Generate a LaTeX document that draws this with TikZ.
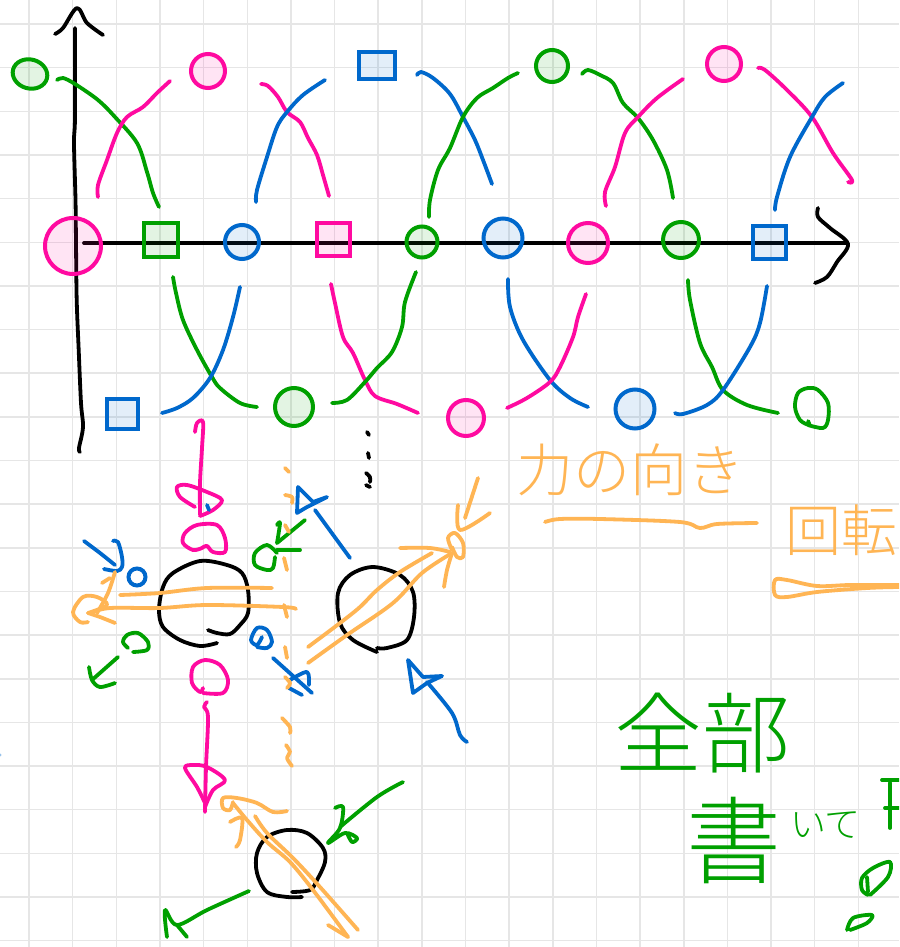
\documentclass[tikz,border=0pt]{standalone}
\usepackage{fontspec}
\usetikzlibrary{shapes.geometric}
\newfontfamily\jpfont{Noto Sans CJK JP Light}
\definecolor{pk}{HTML}{FF0AA0}
\definecolor{gr}{HTML}{00A000}
\definecolor{bl}{HTML}{0068CC}
\definecolor{og}{HTML}{FFB554}
\definecolor{gd}{HTML}{E6E6E6}
\newcommand{\hs}[2]{\draw[ink,#1] plot[smooth,tension=0.55] coordinates {#2};}
\tikzset{
  ink/.style={line width=3.8pt,line cap=round,line join=round},
  blob/.style={draw=#1,fill=#1,fill opacity=0.11,draw opacity=1,line width=4pt,inner sep=0pt,outer sep=0pt},
  round blob/.style={blob=#1,circle},
  box blob/.style={blob=#1,rectangle},
  hand/.style={font=\jpfont,inner sep=0pt,outer sep=0pt,anchor=west}
}
\begin{document}
\begin{tikzpicture}[x=1pt,y=-1pt]
\useasboundingbox (0,0) rectangle (899,947);
\clip (0,0) rectangle (899,947);
\fill[white] (0,0) rectangle (899,947);
% grid
\foreach \k in {0,...,19} \draw[gd,line width=1.5pt] ({29+43.65*\k},0) -- ({29+43.65*\k},947);
\foreach \k in {0,...,21} \draw[gd,line width=1.5pt] (0,{24+43.65*\k}) -- (899,{24+43.65*\k});
\fill[bl!40] (0,755) circle (1.6);
% axes
\hs{black}{(75,28)(75,117)(74,143)(75.5,200)(76,243)(76.7,300)(78.7,350)(81,403)(83,427)(79,448)(80,452)}
\hs{black}{(55,34)(63,28)(77,8)(87,23)(103,35)}
\draw[ink,black] (84,243) -- (847,243);
\hs{black}{(818,208)(818,217)(830,228)(848,244)(837,262)(827,277)(815,283)}
% top row
\node[blob=gr,ellipse,minimum width=35pt,minimum height=29pt,rotate=-15] (g1) at (30,74) {};
\node[round blob=pk,minimum size=34pt] (p1) at (208,71) {};
\node[box blob=bl,minimum width=36pt,minimum height=27pt] (b1) at (376.5,65.5) {};
\node[round blob=gr,minimum size=32pt] (g2) at (552,66) {};
\node[round blob=pk,minimum size=34pt] (p2) at (724,64) {};
% middle row
\node[round blob=pk,minimum size=56pt] (p0) at (73,246) {};
\node[box blob=gr,minimum size=34pt] (g3) at (160.5,240) {};
\node[round blob=bl,minimum size=34pt] (b2) at (242,242) {};
\node[box blob=pk,minimum size=33pt] (p3) at (333.5,239) {};
\node[round blob=gr,minimum size=31pt] (g4) at (422,242) {};
\node[round blob=bl,minimum size=39pt] (b3) at (503,238) {};
\node[round blob=pk,minimum size=40pt] (p4) at (588,243) {};
\node[round blob=gr,minimum size=36pt] (g5) at (681,240) {};
\node[box blob=bl,minimum size=33pt] (b4) at (769.5,242.5) {};
% bottom row
\node[box blob=bl,minimum width=31pt,minimum height=30pt] (b5) at (122.5,414) {};
\node[round blob=gr,minimum size=38pt] (g6) at (294,407) {};
\node[round blob=pk,minimum size=36pt] (p5) at (466,418) {};
\node[round blob=bl,minimum size=39pt] (b6) at (635,409) {};
\hs{gr}{(808,421)(809,425)(800,420)(795,407)(798,393)(808,388)(818,390)(828,403)(828,420)(823,428)(808,425)}
% upper crossings
\hs{gr}{(57,80)(63,78)(75,84)(98,100)(115,117)(137,143)(147,172)(153,193)(159,207)}
\hs{pk}{(98,197)(98,185)(107,160)(117,133)(127,117)(143,107)(157,93)(170,81)}
\hs{pk}{(261,84)(268,86)(278,97)(287,112)(300,122)(308,138)(317,155)(323,175)(329,196)}
\hs{bl}{(256,202)(257,190)(267,157)(277,127)(287,112)(303,95)(325,80)}
\hs{bl}{(417,75)(421,72)(433,78)(450,94)(463,117)(475,140)(483,160)(492,184)}
\hs{gr}{(429,217)(430,200)(438,170)(450,148)(463,117)(477,98)(493,88)(508,78)(518,73)}
\hs{gr}{(582,74)(588,70)(600,75)(613,83)(623,103)(638,118)(653,140)(667,170)(673,198)}
\hs{pk}{(606,206)(605,192)(615,167)(625,133)(638,117)(657,98)(683,79)}
\hs{pk}{(758,68)(765,70)(787,90)(812,117)(833,153)(852,180)(848,182)}
\hs{bl}{(775,210)(777,197)(790,157)(812,117)(825,97)(843,83)}
% lower crossings
\hs{gr}{(173,277)(176,293)(183,320)(197,350)(212,377)(220,388)(240,403)(257,407)}
\hs{bl}{(240,287)(233,317)(223,350)(210,378)(193,398)(177,408)(162,413)}
\hs{pk}{(331,284)(335,303)(343,337)(353,353)(365,380)(375,396)(397,404)(418,413)}
\hs{gr}{(416,272)(405,302)(402,327)(392,352)(377,368)(365,382)(347,400)(332,403)}
\hs{bl}{(508,279)(510,307)(523,340)(550,380)(570,398)(588,407)}
\hs{pk}{(586,294)(578,317)(573,337)(560,367)(550,382)(527,398)(507,408)}
\hs{gr}{(688,280)(690,300)(700,343)(712,367)(723,390)(747,405)(778,413)}
\hs{bl}{(767,286)(760,323)(750,347)(723,390)(707,405)(683,414)(675,413)}
% dots
\hs{black}{(367,432)(369,435)}
\hs{black}{(368,453)(369,458)}
\hs{black}{(366,473)(370,477)(370,482)}
\hs{black}{(366,485)(370,487)}
% black circles
\hs{black}{(217,643)(200,646)(180,640)(163,627)(159,610)(163,587)(173,573)(200,561)(227,565)(242,573)(248,590)(248,613)(240,625)(230,634)(217,633)(208,630)}
\hs{black}{(377,652)(353,640)(340,623)(338,593)(350,575)(373,567)(400,575)(413,592)(414,617)(407,640)(387,648)(377,648)}
\hs{black}{(302,897)(287,897)(267,892)(257,873)(257,853)(267,837)(287,830)(307,833)(323,848)(325,862)(317,880)(310,890)(292,892)}
% pink arrows and marks
\hs{pk}{(195,432)(197,423)(203,422)(202,448)(200,483)(200,515)}
\hs{pk}{(195,507)(180,497)(177,487)(187,485)(207,492)(222,500)(213,510)(200,516)}
\hs{bl}{(207,505)(209,510)}
\hs{pk}{(202,548)(193,550)(183,543)(185,533)(197,525)(217,525)(225,538)(225,552)(213,552)(207,546)(202,548)}
\hs{pk}{(203,688)(200,692)(192,683)(193,667)(205,660)(220,665)(228,680)(223,693)(203,693)}
\hs{pk}{(207,702)(204,707)(208,717)(206,767)(205,812)}
\hs{pk}{(205,803)(197,787)(185,768)(193,765)(207,767)(225,780)(213,790)(205,807)}
% blue marks left
\hs{bl}{(84,541)(100,553)(115,565)}
\hs{bl}{(113,541)(118,542)(122,557)(122,567)(117,571)(104,569)}
\node[round blob=bl,fill opacity=0,minimum size=17pt] (b7) at (137,577) {};
\hs{bl}{(257,647)(267,648)(272,642)(267,630)(257,628)(251,640)(257,645)(262,637)}
\draw[ink,bl] (273,658) -- (312,693);
\hs{bl}{(290,680)(307,672)(309,685)}
\hs{bl}{(289,688)(302,695)}
% blue arrows
\draw[ink,bl] (350,558) -- (315,510);
\draw[ink,bl] (297,513) -- (298,487) -- (313,502) -- (327,497) -- (307,507) -- cycle;
\hs{bl}{(467,742)(460,735)(452,713)(427,682)}
\draw[ink,bl] (413,693) -- (408,660) -- (423,677) -- (442,676) -- (427,683) -- cycle;
% green marks
\hs{gr}{(133,652)(147,650)(148,642)(138,633)(127,635)(123,642)(128,648)}
\draw[ink,gr] (118,657) -- (92,680);
\hs{gr}{(89,667)(92,680)(100,687)(115,683)}
\hs{gr}{(277,553)(267,545)(255,553)(255,565)(267,570)(273,568)(275,557)}
\draw[ink,gr] (305,520) -- (277,543);
\hs{gr}{(277,525)(280,523)(277,543)}
\draw[ink,gr] (277,550) -- (300,550);
\hs{gr}{(403,782)(377,797)(340,827)}
\hs{gr}{(335,808)(343,807)(340,828)(328,843)(345,833)(357,838)(352,842)(347,833)}
\hs{gr}{(249,891)(207,910)(177,925)(165,910)(167,937)}
\draw[ink,gr] (177,925) -- (187,937);
% orange forces
\hs{og}{(120,595)(160,593)(207,588)(272,588)}
\hs{og}{(90,613)(110,608)(160,608)(207,605)(283,607)(296,609)}
\hs{og}{(88,613)(107,605)(97,597)(83,597)(73,612)(80,622)(88,622)}
\hs{og}{(88,613)(100,617)(115,623)}
\hs{og}{(97,613)(108,593)(115,572)}
\draw[ink,og] (102,583) -- (110,578);
\hs{og}{(285,468)(289,472)}
\hs{og}{(285,495)(292,497)(292,503)}
\hs{og}{(285,525)(289,532)}
\hs{og}{(284,558)(287,570)}
\hs{og}{(284,605)(287,617)}
\hs{og}{(285,647)(287,658)}
\hs{og}{(285,677)(290,683)(287,688)}
\hs{og}{(282,718)(290,727)(290,733)}
\hs{og}{(286,745)(290,752)(287,758)(292,766)}
\hs{og}{(308,647)(340,623)(360,607)(377,590)(400,572)(432,553)}
\hs{og}{(308,663)(347,635)(393,603)(422,573)(452,553)}
\hs{og}{(400,548)(430,548)(450,552)}
\hs{og}{(452,550)(448,538)(455,533)(463,543)(463,557)(457,557)(452,547)}
\hs{og}{(452,553)(447,570)(444,587)}
\hs{og}{(458,505)(460,530)(490,513)}
\draw[ink,og] (478,478) -- (465,518);
\hs{og}{(233,803)(247,820)(267,842)(290,862)(313,890)(348,937)}
\hs{og}{(255,816)(267,833)(293,858)(320,887)(358,930)}
\hs{og}{(287,811)(273,812)(257,803)(237,798)(223,798)(223,808)(230,810)(233,802)}
\hs{og}{(230,822)(242,818)(240,840)(236,847)}
\draw[ink,og] (328,925) -- (348,937);
% hand-written words
\node[hand,text=og] (force) at (516,470) {\fontsize{57}{60}\selectfont 力の向き};
\hs{og}{(545,522)(560,519)(600,519)(680,522)(700,528)(717,524)(757,523)}
\node[hand,text=og] (spin) at (785,530) {\fontsize{56}{60}\selectfont 回転};
\hs{og}{(899,585)(850,585)(817,586)(787,580)(775,580)(775,595)(787,597)(817,592)(867,588)(899,587)}
\node[hand,text=gr] (all) at (614,733) {\fontsize{88}{92}\selectfont 全部};
\node[hand,text=gr] (write) at (686,840) {\fontsize{95}{100}\selectfont 書};
\node[hand,text=gr] (tail) at (790,825) {\fontsize{36}{40}\selectfont いて};
\draw[ink,gr] (890,783) -- (890,828);
\draw[ink,gr] (882,780) -- (899,780);
\draw[ink,gr] (885,808) -- (899,808);
\hs{gr}{(868,895)(862,890)(862,878)(873,868)(890,862)(888,877)(870,895)}
\draw[ink,gr] (867,877) -- (868,892);
\hs{gr}{(847,930)(853,918)(872,915)(867,923)(850,930)}
\end{tikzpicture}
\end{document}
